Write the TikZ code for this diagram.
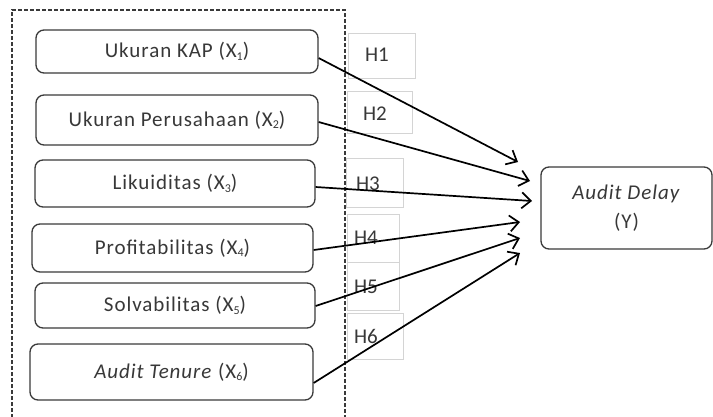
\documentclass[tikz,border=0pt]{standalone}
\usepackage{fontspec}
\setmainfont{Carlito}
\newfontfamily\boxfont[LetterSpace=4.5]{Carlito}
\usetikzlibrary{arrows.meta}
\definecolor{boxline}{HTML}{3A3A3A}
\definecolor{txt}{HTML}{383838}
\definecolor{hline}{HTML}{D4D4D4}
\newcommand{\subx}[1]{\raisebox{-2.5pt}{\fontsize{12}{13}\selectfont #1}}
\tikzset{
  varbox/.style={draw=boxline, line width=1.3pt, rounded corners=8pt, fill=white,
    text=txt, font=\boxfont\fontsize{21}{24}\selectfont, inner sep=0pt},
  hbox/.style={draw=hline, line width=0.8pt, inner sep=0pt},
  hlab/.style={text=txt, font=\fontsize{21}{24}\selectfont, inner sep=0pt},
  conn/.style={line width=1.7pt, black, -{Straight Barb[length=9pt,width=16pt,line width=1.7pt]}},
  frame/.style={draw=boxline, line width=1.6pt, dash pattern=on 4pt off 2pt}
}
\begin{document}
\begin{tikzpicture}[x=1pt,y=-1pt]
\useasboundingbox (0,0) rectangle (713,416);
% dashed frame
\draw[frame] (12,418) -- (12,10) -- (345,10) -- (345,418);
% hypothesis boxes
\node[hbox, minimum width=67pt, minimum height=45pt] (hb1) at (381.5,55.5) {};
\node[hbox, minimum width=65pt, minimum height=42pt] (hb2) at (380,112) {};
\node[hbox, minimum width=57pt, minimum height=49pt] (hb3) at (374.5,182.5) {};
\node[hbox, minimum width=52pt, minimum height=48pt] (hb4) at (373,238) {};
\node[hbox, minimum width=52pt, minimum height=48pt] (hb5) at (373,286) {};
\node[hbox, minimum width=56pt, minimum height=46pt] (hb6) at (375,336) {};
\node[hlab] (h1) at (377,55) {H1};
\node[hlab] (h2) at (375,114) {H2};
\node[hlab] (h3) at (368,184) {H3};
\node[hlab] (h4) at (366,238) {H4};
\node[hlab] (h5) at (366,287) {H5};
\node[hlab] (h6) at (366,336) {H6};
% variable boxes
\node[varbox, minimum width=282pt, minimum height=43pt] (b1) at (177,51.5) {Ukuran KAP (X\subx{1})};
\node[varbox, minimum width=282pt, minimum height=50pt] (b2) at (177,120) {Ukuran Perusahaan (X\subx{2})};
\node[varbox, minimum width=280pt, minimum height=47pt] (b3) at (175,183.5) {Likuiditas (X\subx{3})};
\node[varbox, minimum width=281pt, minimum height=48pt] (b4) at (172.5,248) {Profitabilitas (X\subx{4})};
\node[varbox, minimum width=280pt, minimum height=45pt] (b5) at (175,305.5) {Solvabilitas (X\subx{5})};
\node[varbox, minimum width=283pt, minimum height=56pt] (b6) at (171.5,372) {\textit{Audit Tenure} (X\subx{6})};
% dependent
\node[varbox, minimum width=171pt, minimum height=82pt, align=center] (y) at (626.5,208) {\textit{Audit Delay}\\[5pt](Y)};
% arrow tips
\coordinate (t1) at (518,162);
\coordinate (t2) at (530,181);
\coordinate (t3) at (532,201);
\coordinate (t4) at (520,222);
\coordinate (t5) at (520,238);
\coordinate (t6) at (520,253);
\draw[conn] ([yshift=-6.5pt]b1.east) -- (t1);
\draw[conn] ([yshift=-2pt]b2.east) -- (t2);
\draw[conn] ([yshift=-3.5pt]b3.east) -- (t3);
\draw[conn] ([yshift=-2pt]b4.east) -- (t4);
\draw[conn] ([yshift=-0.5pt]b5.east) -- (t5);
\draw[conn] ([yshift=-11pt]b6.east) -- (t6);
\end{tikzpicture}
\end{document}
